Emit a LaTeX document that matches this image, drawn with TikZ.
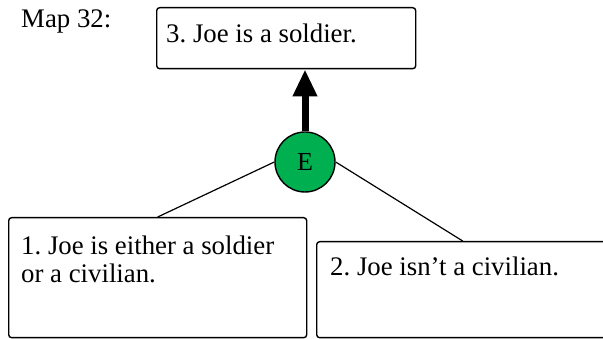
\documentclass[tikz,border=0pt]{standalone}
\usepackage{fontspec}
\setmainfont{Liberation Serif}
\usetikzlibrary{arrows.meta}
\definecolor{egreen}{HTML}{00B050}
\tikzset{
  box/.style={draw, line width=1.4pt, rounded corners=3pt, anchor=north west, inner sep=0pt},
  txt/.style={anchor=base west, align=left, inner sep=0pt, font=\fontsize{26.8}{29}\selectfont\frenchspacing},
  enode/.style={circle, draw, line width=1.4pt, fill=egreen, minimum size=60pt, inner sep=0pt, font=\fontsize{26}{28}\selectfont},
  link/.style={line width=1.2pt},
  support/.style={line width=7pt, -{Triangle[width=23pt,length=27pt]}}
}
\begin{document}
\begin{tikzpicture}[x=1pt,y=-1pt]
\useasboundingbox (0,0) rectangle (603,339);
\node[txt] (title) at (21,28) {Map 32:};
\node[box, minimum width=259pt, minimum height=61pt] (b3) at (156,7) {};
\node[txt] (t3) at (166,43) {3. Joe is a soldier.};
\node[enode] (e) at (305,162) {E};
\node[box, minimum width=298pt, minimum height=120pt] (b1) at (8,217) {};
\node[txt] (t1) at (21,255) {1. Joe is either a soldier};
\node[txt] (t1b) at (21,283) {or a civilian.};
\node[box, minimum width=292pt, minimum height=96pt] (b2) at (316,241) {};
\node[txt] (t2) at (330,276) {2. Joe isn’t a civilian.};
\draw[support] (e.north) -- (e.north |- b3.south);
\draw[link] (e.west) -- (b1.north);
\draw[link] (e.east) -- (b2.north);
\end{tikzpicture}
\end{document}
